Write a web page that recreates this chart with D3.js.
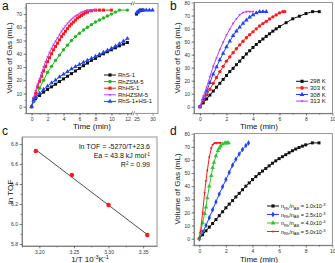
<!DOCTYPE html>
<html>
<head>
<meta charset="utf-8">
<script src="https://cdn.jsdelivr.net/npm/d3@7"></script>
<style>
  body { margin: 0; background: #fff; }
  svg { font-family: "Liberation Sans", Arial, sans-serif; }
  .axis text { font-size: 5px; fill: #333; }
  .axis path, .axis line { stroke: #555; stroke-width: 0.6; }
  .frame { fill: none; stroke: #666; stroke-width: 0.7; }
  .title { font-size: 8px; fill: #111; }
  .lg { font-size: 6px; fill: #111; }
  .letter { font-size: 12px; fill: #111; }
</style>
</head>
<body>
<div id="fig"></div>
<script>
// ---- panel a: gas volume vs time, five catalysts ----
var aRhS1 = [[0,0],[0.25,4],[0.5,6],[1,8.5],[1.5,11],[2,13],[2.5,15],[3,17],[3.5,19],[4,21],[4.5,23],[5,25],[5.5,27],[6,29],[6.5,31],[7,33],[7.5,35],[8,36.5],[8.5,38.5],[9,40],[9.5,41.5],[10,43],[10.5,44.5],[11,46],[11.5,47.3],[12,48.5],[25,70],[25.5,71.5],[26,72.5],[26.5,73],[27,73]];
var aRhZSM5 = [[0,0],[0.25,4],[0.5,7],[1,14],[1.5,20],[2,26],[2.5,30.5],[3,35],[3.5,39],[4,43],[4.5,46.5],[5,50],[5.5,53],[6,55.5],[6.5,58],[7,60],[7.5,62],[8,64],[8.5,65.5],[9,67],[9.5,68.5],[10,70],[10.5,71.5],[11,73],[12,73]];
var aRhHS1 = [[0,0],[0.25,6],[0.5,10],[0.75,15],[1,19],[1.25,23],[1.5,27],[1.75,30.5],[2,34],[2.25,37],[2.5,40],[2.75,43],[3,45.5],[3.25,48],[3.5,50.5],[3.75,53],[4,55],[4.25,57],[4.5,59],[4.75,61],[5,62.5],[5.25,64],[5.5,65.5],[5.75,67],[6,68],[6.25,69],[6.5,70],[6.75,71],[7,71.5],[7.5,72.5],[8,73],[8.5,73],[9,73],[10,73]];
var aRhHZSM5 = [[0,0],[0.25,7],[0.5,12],[0.75,17],[1,21],[1.25,25.5],[1.5,30],[1.75,34],[2,37.5],[2.25,41],[2.5,44],[2.75,47],[3,49.5],[3.25,52],[3.5,54.5],[3.75,57],[4,59],[4.25,61],[4.5,63],[4.75,64.5],[5,66],[5.25,67.5],[5.5,68.5],[5.75,69.5],[6,70.5],[6.25,71.3],[6.5,72],[6.75,72.6],[7,73],[7.25,73],[7.5,73],[7.75,73],[8,73]];
var aRhS1HS1 = [[0,0],[0.25,5],[0.5,7],[1,10],[1.5,13],[2,15.5],[2.5,18],[3,20],[3.5,22.5],[4,24.5],[4.5,26.5],[5,28.5],[5.5,30.3],[6,32],[6.5,33.5],[7,35],[7.5,36.5],[8,38],[8.5,39.5],[9,41],[9.5,42.5],[10,44],[10.5,45.7],[11,47.5],[11.5,49.5],[12,51.5],[25,71],[25.5,72],[26,73],[27,73],[28,73],[29,73],[30,73]];
var aNames = ["RhS-1", "RhZSM-5", "RhHS-1", "RhHZSM-5", "RhS-1+HS-1"];
var aTicksLeft = [0, 2, 4, 6, 8, 10, 12];
var aTicksRight = [25, 30];
var volTicksA = [0, 10, 20, 30, 40, 50, 60, 70];

// ---- panel b: temperature series ----
var b298 = [[0,0],[0.25,3],[0.5,6],[0.75,9],[1,12],[1.25,15],[1.5,18],[1.75,21],[2,24],[2.25,27],[2.5,29.5],[2.75,32.3],[3,35],[3.25,37.8],[3.5,40.5],[3.75,43],[4,45.5],[4.25,47.8],[4.5,50],[4.75,52],[5,54],[5.25,56],[5.5,58],[5.75,59.8],[6,61.5],[6.5,64.5],[7,67.5],[7.5,69.5],[8,71.5],[8.5,73],[9,73]];
var b303 = [[0,0],[0.25,4.5],[0.5,9],[0.75,13.5],[1,18],[1.25,22.5],[1.5,27],[1.75,31],[2,35],[2.25,38.3],[2.5,41.5],[2.75,44.5],[3,47.5],[3.25,50.3],[3.5,53],[3.75,55.3],[4,57.5],[4.25,59.8],[4.5,62],[4.75,63.8],[5,65.5],[5.25,67.3],[5.5,69],[5.75,70.5],[6,72],[6.25,73],[6.4,73]];
var b308 = [[0,0],[0.25,6],[0.5,12],[0.75,18.5],[1,25],[1.25,30.5],[1.5,36],[1.75,41],[2,46],[2.25,50.3],[2.5,54.5],[2.75,58],[3,61],[3.25,64],[3.5,66.5],[3.75,68.7],[4,70.5],[4.25,72],[4.5,73],[4.75,73],[5,73]];
var b313 = [[0,0],[0.25,8],[0.5,15],[0.75,23],[1,31],[1.25,37.5],[1.5,44],[1.75,49.5],[2,55],[2.25,59.5],[2.5,64],[2.75,67.5],[3,70.5],[3.25,72.3],[3.5,73],[3.75,73],[4,73]];
var bNames = ["298 K", "303 K", "308 K", "313 K"];
var timeTicks = [0, 2, 4, 6, 8, 10];
var volTicks = [0, 10, 20, 30, 40, 50, 60, 70, 80];

// ---- panel c: Arrhenius plot ----
var cInvT = [3.195, 3.247, 3.300, 3.356];
var cLnTOF = [6.73, 6.49, 6.19, 5.89];
var cFitSlope = -5.27;
var cFitIntercept = 23.58;
var cXTicks = [3.20, 3.25, 3.30, 3.35];
var cYTicks = [5.8, 6.0, 6.2, 6.4, 6.6, 6.8];

// ---- panel d: catalyst/substrate ratio series ----
var d10 = [[0,0],[0.25,3],[0.5,6],[0.75,8.8],[1,11.5],[1.25,14.5],[1.5,17.5],[1.75,20.5],[2,23.5],[2.25,26.3],[2.5,29],[2.75,31.8],[3,34.5],[3.25,37.3],[3.5,40],[3.75,42.5],[4,45],[4.25,47.3],[4.5,49.5],[4.75,51.5],[5,53.5],[5.25,55.5],[5.5,57.5],[5.75,59.3],[6,61],[6.25,62.5],[6.5,64],[6.75,65.5],[7,67],[7.25,68.3],[7.5,69.5],[7.75,70.5],[8,71.5],[8.5,73],[9,73]];
var d25 = [[0,0],[0.25,5],[0.5,10],[0.75,16],[1,22],[1.25,28],[1.5,34],[1.75,39.5],[2,45],[2.25,50.5],[2.5,56],[2.75,60.5],[3,64.5],[3.25,68],[3.5,71],[3.7,73]];
var d40 = [[0,0],[0.1,5],[0.25,12],[0.4,19],[0.5,24],[0.6,31],[0.75,40],[0.9,48],[1,54],[1.1,58],[1.25,63],[1.4,67],[1.5,69],[1.6,70.5],[1.75,72],[1.9,72.8],[2,73],[2.1,73],[2.2,73]];
var d50 = [[0,0],[0.1,6],[0.25,20],[0.4,35],[0.5,44],[0.6,52],[0.75,62],[0.9,69],[1,71.5],[1.1,72.5],[1.2,73],[1.3,73],[1.4,73],[1.5,73],[1.6,73]];
var dRatios = ["1.0", "2.5", "4.0", "5.0"];

var BLACK = "#111", RED = "#ff1a1a", BLUE = "#2244ff", MAGENTA = "#c23cff", GREEN = "#1fb81f";

var svg = d3.select("#fig").append("svg")
    .attr("width", 335)
    .attr("height", 263);

var triDown = { draw: function(ctx, size) {
    var s = Math.sqrt(size / (3 * Math.sqrt(3) / 4));
    var h = s * Math.sqrt(3) / 2;
    ctx.moveTo(0, h * 2 / 3);
    ctx.lineTo(s / 2, -h / 3);
    ctx.lineTo(-s / 2, -h / 3);
    ctx.closePath();
} };
var SHAPES = { square: d3.symbolSquare, circle: d3.symbolCircle, up: d3.symbolTriangle, down: triDown, diamond: d3.symbolDiamond };

function drawSeries(g, data, xf, y, color, shape, size) {
    var segs = [data];
    if (xf.split) {
        segs = [data.filter(function(d) { return d[0] <= xf.split; }),
                data.filter(function(d) { return d[0] > xf.split; })];
    }
    var line = d3.line().x(function(d) { return xf(d[0]); }).y(function(d) { return y(d[1]); });
    segs.forEach(function(s) {
        if (s.length < 2) return;
        g.append("path").attr("d", line(s))
            .attr("fill", "none").attr("stroke", color).attr("stroke-width", 1);
    });
    g.selectAll(null).data(data).enter().append("path")
        .attr("d", d3.symbol().type(SHAPES[shape]).size(size || 9))
        .attr("transform", function(d) { return "translate(" + xf(d[0]) + "," + y(d[1]) + ")"; })
        .attr("fill", color);
}

function legendItem(g, x, yy, color, shape) {
    g.append("line").attr("x1", x).attr("x2", x + 12).attr("y1", yy).attr("y2", yy)
        .attr("stroke", color).attr("stroke-width", 1);
    g.append("path").attr("d", d3.symbol().type(SHAPES[shape]).size(10))
        .attr("transform", "translate(" + (x + 6) + "," + yy + ")").attr("fill", color);
}

function yAxis(g, y, x0, ticks, minor, fmt) {
    g.append("g").attr("class", "axis").attr("transform", "translate(" + x0 + ",0)")
        .call(d3.axisLeft(y).tickValues(minor).tickSize(1.5).tickFormat("").tickSizeOuter(0))
        .select(".domain").remove();
    g.append("g").attr("class", "axis").attr("transform", "translate(" + x0 + ",0)")
        .call(d3.axisLeft(y).tickValues(ticks).tickSize(2.5).tickPadding(1.5).tickFormat(fmt || d3.format("d")).tickSizeOuter(0));
}

function xAxis(g, x, y0, ticks, minor, fmt) {
    g.append("g").attr("class", "axis").attr("transform", "translate(0," + y0 + ")")
        .call(d3.axisBottom(x).tickValues(minor).tickSize(1.5).tickFormat("").tickSizeOuter(0))
        .select(".domain").remove();
    g.append("g").attr("class", "axis").attr("transform", "translate(0," + y0 + ")")
        .call(d3.axisBottom(x).tickValues(ticks).tickSize(2.5).tickPadding(1.5).tickFormat(fmt || d3.format("d")).tickSizeOuter(0));
}

function frame(g, x0, x1, y0, y1) {
    g.append("rect").attr("class", "frame").attr("x", x0).attr("y", y0)
        .attr("width", x1 - x0).attr("height", y1 - y0);
}

function yTitle(g, x, yc, txt) {
    g.append("text").attr("class", "title").attr("transform", "translate(" + x + "," + yc + ") rotate(-90)")
        .attr("text-anchor", "middle").text(txt);
}

function xTitle(g, xc, y, txt) {
    return g.append("text").attr("class", "title").attr("x", xc).attr("y", y)
        .attr("text-anchor", "middle").text(txt);
}

// ================= panel a =================
(function() {
    var g = svg.append("g");
    var xl = d3.scaleLinear().domain([-0.7, 12.7]).range([26, 133]);
    var xr = d3.scaleLinear().domain([24.2, 31.7]).range([134, 158]);
    var xf = function(t) { return t <= 12.7 ? xl(t) : xr(t); };
    xf.split = 12.7;
    var y = d3.scaleLinear().domain([-5, 78]).range([113.3, 3.5]);

    frame(g, 26, 158, 3.5, 113.3);
    yAxis(g, y, 26, volTicksA, d3.range(-5, 78, 5));
    xAxis(g, xl, 113.3, aTicksLeft, d3.range(0, 12.7, 1));
    g.append("g").attr("class", "axis").attr("transform", "translate(0,113.3)")
        .call(d3.axisBottom(xr).tickValues(aTicksRight).tickSize(2.5).tickPadding(1.5).tickSizeOuter(0))
        .select(".domain").remove();

    // axis break marks
    [3.5, 113.3].forEach(function(yy) {
        g.append("rect").attr("x", 132.3).attr("y", yy - 2).attr("width", 2.4).attr("height", 4).attr("fill", "#fff");
        [131.8, 133.8].forEach(function(bx) {
            g.append("line").attr("x1", bx - 0.8).attr("y1", yy + 2).attr("x2", bx + 0.8).attr("y2", yy - 2)
                .attr("stroke", "#444").attr("stroke-width", 0.6);
        });
    });

    var series = [
        [aRhS1, BLACK, "square"],
        [aRhZSM5, GREEN, "circle"],
        [aRhHS1, RED, "square"],
        [aRhHZSM5, MAGENTA, "down"],
        [aRhS1HS1, BLUE, "up"]
    ];
    series.forEach(function(s) { drawSeries(g, s[0], xf, y, s[1], s[2]); });

    series.forEach(function(s, i) {
        var yy = 75 + i * 6.6;
        legendItem(g, 104, yy, s[1], s[2]);
        g.append("text").attr("class", "lg").attr("x", 118).attr("y", yy + 2).text(aNames[i]);
    });

    yTitle(g, 12, 58, "Volume of Gas (mL)");
    xTitle(g, 92, 128.5, "Time (min)");
    g.append("text").attr("class", "letter").attr("x", 2).attr("y", 10).text("a");
})();

// ================= panel b =================
(function() {
    var g = svg.append("g");
    var x = d3.scaleLinear().domain([-0.45, 10]).range([194, 332.5]);
    var y = d3.scaleLinear().domain([-5, 80]).range([113.3, 2.5]);

    frame(g, 194, 332.5, 2.5, 113.3);
    yAxis(g, y, 194, volTicks, d3.range(-5, 80, 5));
    xAxis(g, x, 113.3, timeTicks, d3.range(0, 10, 1));

    var series = [
        [b298, BLACK, "square"],
        [b303, RED, "circle"],
        [b308, BLUE, "up"],
        [b313, MAGENTA, "down"]
    ];
    series.forEach(function(s) { drawSeries(g, s[0], x, y, s[1], s[2]); });
    series.forEach(function(s, i) {
        var yy = 81.3 + i * 6.6;
        legendItem(g, 296, yy, s[1], s[2]);
        g.append("text").attr("class", "lg").attr("x", 310).attr("y", yy + 2).text(bNames[i]);
    });

    yTitle(g, 180, 58, "Volume of Gas (mL)");
    xTitle(g, 259, 128.5, "Time (min)");
    g.append("text").attr("class", "letter").attr("x", 170).attr("y", 10).text("b");
})();

// ================= panel c =================
(function() {
    var g = svg.append("g");
    var x = d3.scaleLinear().domain([3.175, 3.37]).range([22, 157]);
    var y = d3.scaleLinear().domain([5.78, 6.87]).range([246, 137]);

    frame(g, 22, 157, 137, 246);
    yAxis(g, y, 22, cYTicks, d3.range(5.8, 6.87, 0.1), d3.format(".1f"));
    xAxis(g, x, 246, cXTicks, d3.range(3.175, 3.37, 0.025), d3.format(".2f"));

    var xs = d3.extent(cInvT);
    g.append("line")
        .attr("x1", x(xs[0])).attr("y1", y(cFitSlope * xs[0] + cFitIntercept))
        .attr("x2", x(xs[1])).attr("y2", y(cFitSlope * xs[1] + cFitIntercept))
        .attr("stroke", "#222").attr("stroke-width", 0.8);
    g.selectAll(null).data(cInvT).enter().append("path")
        .attr("d", d3.symbol().type(d3.symbolCircle).size(16))
        .attr("transform", function(d, i) { return "translate(" + x(d) + "," + y(cLnTOF[i]) + ")"; })
        .attr("fill", RED);

    var ann = g.append("text").attr("class", "lg").attr("text-anchor", "end").style("font-size", "7px");
    ann.append("tspan").attr("x", 150).attr("y", 149).text("ln TOF = -5270/T+23.6");
    ann.append("tspan").attr("x", 150).attr("y", 158).text("Ea = 43.8 kJ mol");
    ann.append("tspan").attr("dy", -2.5).style("font-size", "4.5px").text("-1");
    var t3 = g.append("text").attr("class", "lg").attr("text-anchor", "end").style("font-size", "7px")
        .attr("x", 150).attr("y", 167);
    t3.append("tspan").text("R");
    t3.append("tspan").attr("dy", -2.5).style("font-size", "4.5px").text("2");
    t3.append("tspan").attr("dy", 2.5).text(" = 0.99");

    yTitle(g, 13, 192, "ln TOF");
    var xt = xTitle(g, 90, 262, "1/T 10");
    xt.append("tspan").attr("dy", -3).style("font-size", "5.5px").text("-3");
    xt.append("tspan").attr("dy", 3).text("K");
    xt.append("tspan").attr("dy", -3).style("font-size", "5.5px").text("-1");
    g.append("text").attr("class", "letter").attr("x", 2).attr("y", 135).text("c");
})();

// ================= panel d =================
(function() {
    var g = svg.append("g");
    var x = d3.scaleLinear().domain([-0.4, 10]).range([194, 332.3]);
    var y = d3.scaleLinear().domain([-5, 80]).range([245.2, 133.7]);

    frame(g, 194, 332.3, 133.7, 245.2);
    yAxis(g, y, 194, volTicks, d3.range(-5, 80, 5));
    xAxis(g, x, 245.2, timeTicks, d3.range(0, 10, 1));

    var series = [
        [d10, BLACK, "square"],
        [d25, BLUE, "diamond"],
        [d40, "#33c433", "up"],
        [d50, RED, "down"]
    ];
    series.forEach(function(s) { drawSeries(g, s[0], x, y, s[1], s[2]); });
    series.forEach(function(s, i) {
        var yy = 206 + i * 8.5;
        legendItem(g, 267, yy, s[1], s[2]);
        var t = g.append("text").attr("class", "lg").attr("x", 281).attr("y", yy + 2).style("font-size", "5.5px");
        t.append("tspan").text("n");
        t.append("tspan").attr("dy", 1.5).style("font-size", "4px").text("Rh");
        t.append("tspan").attr("dy", -1.5).text("/n");
        t.append("tspan").attr("dy", 1.5).style("font-size", "4px").text("AB");
        t.append("tspan").attr("dy", -1.5).text(" = " + dRatios[i] + "x10");
        t.append("tspan").attr("dy", -2).style("font-size", "4px").text("-3");
    });

    yTitle(g, 180, 189, "Volume of Gas (mL)");
    xTitle(g, 259, 262, "Time (min)");
    g.append("text").attr("class", "letter").attr("x", 170).attr("y", 135).text("d");
})();
</script>
</body>
</html>
